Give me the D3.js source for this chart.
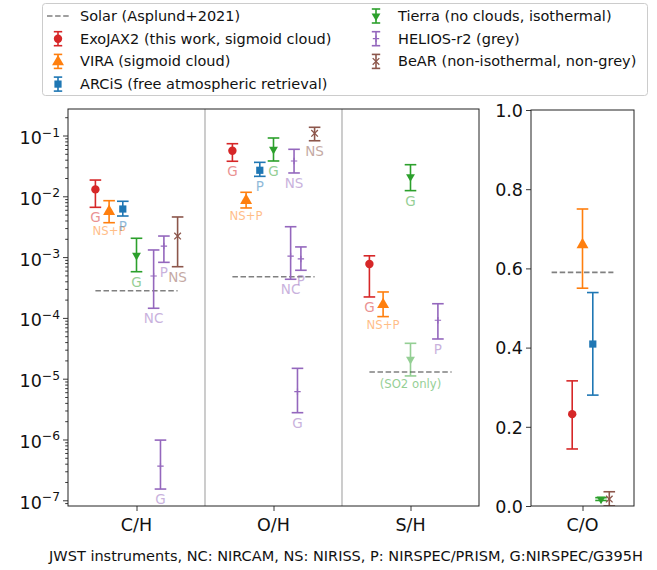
<!DOCTYPE html>
<html><head><meta charset="utf-8">
<script src="https://cdn.jsdelivr.net/npm/d3@7"></script>
<style>body{margin:0;background:#fff} text{font-family:"DejaVu Sans",sans-serif}</style>
</head><body><svg id="c" width="657" height="570"></svg>
<script>
// ---------------- data ----------------
const categories = ["C/H", "O/H", "S/H"];
const solarValues = [2.80e-4, 4.76e-4, 1.29e-5];
const solarCO = 0.59;
const yTickExponents = [-7, -6, -5, -4, -3, -2, -1];
const coTicks = [0, 0.2, 0.4, 0.6, 0.8, 1.0];

const exojaxVal = [0.0130, 0.0562, 7.71e-4];
const exojaxLo  = [0.00659, 0.0377, 2.21e-4];
const exojaxHi  = [0.0185, 0.0733, 1.05e-3];
const exojaxCO  = [0.232, 0.144, 0.316];

const viraVal = [0.00573, 0.00869, 1.69e-4];
const viraLo  = [0.00368, 0.00643, 1.05e-4];
const viraHi  = [0.00847, 0.01164, 2.67e-4];
const viraCO  = [0.661, 0.550, 0.750];

const arcisVal = [0.00618, 0.0268, null];
const arcisLo  = [0.00474, 0.0213, null];
const arcisHi  = [0.00828, 0.0362, null];
const arcisCO  = [0.409, 0.280, 0.539];

const tierraVal = [0.00107, 0.0593, 0.0210];
const tierraLo  = [5.75e-4, 0.0381, 0.0124];
const tierraHi  = [0.00204, 0.0910, 0.0331];
const tierraSO2 = [2.08e-5, 1.11e-5, 3.82e-5]; // S/H, SO2 only: value, lo, hi
const tierraCO  = [0.0175, 0.014, 0.021];

const heliosCat  = ["C/H", "C/H", "C/H", "O/H", "O/H", "O/H", "O/H", "S/H"];
const heliosInst = ["NC", "P", "G", "NS", "NC", "P", "G", "P"];
const heliosVal  = [4.89e-4, 1.52e-3, 3.65e-7, 0.0381, 1.04e-3, 9.33e-4, 6.11e-6, 9.14e-5];
const heliosLo   = [1.44e-4, 8.20e-4, 1.53e-7, 0.0242, 4.32e-4, 6.07e-4, 2.76e-6, 4.50e-5];
const heliosHi   = [1.31e-3, 2.22e-3, 9.77e-7, 0.0593, 3.16e-3, 1.47e-3, 1.48e-5, 1.71e-4];

const bearVal = [2.22e-3, 0.1087, null];
const bearLo  = [6.95e-4, 0.0820, null];
const bearHi  = [4.57e-3, 0.1365, null];
const bearCO  = [0.0175, 0.0, 0.036];

const legendLabels = ["Solar (Asplund+2021)", "ExoJAX2 (this work, sigmoid cloud)", "VIRA (sigmoid cloud)",
  "ARCiS (free atmospheric retrieval)", "Tierra (no clouds, isothermal)", "HELIOS-r2 (grey)", "BeAR (non-isothermal, non-grey)"];
const footer = "JWST instruments, NC: NIRCAM, NS: NIRISS, P: NIRSPEC/PRISM, G:NIRSPEC/G395H";

// ---------------- layout / style ----------------
const svg = d3.select("#c");
const C = {red:"#d62728", orange:"#ff7f0e", blue:"#1f77b4", green:"#2ca02c", purple:"#9467bd", brown:"#8c564b"};
const L = {x0:68, x1:479, y0:109, y1:506};
const R = {x0:531, x1:634};
const x = d3.scaleLinear([0, 3], [L.x0, L.x1]);
const y = d3.scaleLog([Math.pow(10, -7.094), Math.pow(10, -0.564)], [L.y1, L.y0]);
const xr = d3.scaleLinear([-0.5, 0.5], [R.x0, R.x1]);
const yr = d3.scaleLinear([0, 1], [L.y1, 110]);
const instOffset = {NC:0.125, P:0.2, G:0.175, NS:0.15};

const defs = svg.append("defs");
defs.append("clipPath").attr("id","cl").append("rect").attr("x",L.x0).attr("y",L.y0).attr("width",L.x1-L.x0).attr("height",L.y1-L.y0);
defs.append("clipPath").attr("id","cr").append("rect").attr("x",R.x0).attr("y",110).attr("width",R.x1-R.x0).attr("height",L.y1-110);

function marker(g, kind, cx, cy, color, s) {
  s = s || 1;
  if (kind === "o") g.append("circle").attr("cx",cx).attr("cy",cy).attr("r",4.2*s).attr("fill",color);
  else if (kind === "^") g.append("path").attr("d", d3.symbol(d3.symbolTriangle, 62*s*s)()).attr("transform",`translate(${cx},${cy+0.5})`).attr("fill",color);
  else if (kind === "v") g.append("path").attr("d", d3.symbol(d3.symbolTriangle, 34*s*s)()).attr("transform",`translate(${cx},${cy}) rotate(180)`).attr("fill",color);
  else if (kind === "s") g.append("rect").attr("x",cx-3.6*s).attr("y",cy-3.6*s).attr("width",7.2*s).attr("height",7.2*s).attr("fill",color);
  else if (kind === "+") g.append("path").attr("d",`M${cx-3.2*s},${cy}H${cx+3.2*s}M${cx},${cy-3.2*s}V${cy+3.2*s}`).attr("stroke",color).attr("stroke-width",1.2);
  else if (kind === "x") g.append("path").attr("d",`M${cx-3.3*s},${cy-3.3*s}L${cx+3.3*s},${cy+3.3*s}M${cx-3.3*s},${cy+3.3*s}L${cx+3.3*s},${cy-3.3*s}`).attr("stroke",color).attr("stroke-width",1.3);
}
function errbar(g, cx, yv, ylo, yhi, color, kind, opacity, cap) {
  cap = cap || 5.8;
  const gg = g.append("g").attr("opacity", opacity || 1);
  gg.append("line").attr("x1",cx).attr("x2",cx).attr("y1",ylo).attr("y2",yhi).attr("stroke",color).attr("stroke-width",1.6);
  [ylo, yhi].forEach(v => gg.append("line").attr("x1",cx-cap).attr("x2",cx+cap).attr("y1",v).attr("y2",v).attr("stroke",color).attr("stroke-width",1.6));
  marker(gg, kind, cx, yv, color);
}
function label(g, cx, ylo, txt, color, small) {
  g.append("text").attr("x",cx).attr("y",ylo + (small ? 8.5 : 10)).attr("text-anchor","middle").attr("dominant-baseline","central")
    .attr("font-size", small ? 11.7 : 13.5).attr("fill",color).attr("opacity",0.5).text(txt);
}

// ---------------- left panel ----------------
const gl = svg.append("g").attr("clip-path","url(#cl)");
[1, 2].forEach(d => gl.append("line").attr("x1",x(d)).attr("x2",x(d)).attr("y1",L.y0).attr("y2",L.y1).attr("stroke","#c0c0c0").attr("stroke-width",1.6));
categories.forEach((c, i) => {
  gl.append("line").attr("x1",x(i+0.2)).attr("x2",x(i+0.8)).attr("y1",y(solarValues[i])).attr("y2",y(solarValues[i]))
    .attr("stroke","#808080").attr("stroke-width",1.6).attr("stroke-dasharray","5.5,2.6");
});
const series = [
  {val:exojaxVal, lo:exojaxLo, hi:exojaxHi, color:C.red, kind:"o", off:-0.3, lab:"G"},
  {val:viraVal, lo:viraLo, hi:viraHi, color:C.orange, kind:"^", off:-0.2, lab:"NS+P", small:true},
  {val:arcisVal, lo:arcisLo, hi:arcisHi, color:C.blue, kind:"s", off:-0.1, lab:"P"},
  {val:tierraVal, lo:tierraLo, hi:tierraHi, color:C.green, kind:"v", off:0, lab:"G"},
];
series.forEach(s => {
  categories.forEach((c, i) => {
    if (s.val[i] == null) return;
    const cx = x(i + 0.5 + s.off);
    errbar(gl, cx, y(s.val[i]), y(s.lo[i]), y(s.hi[i]), s.color, s.kind);
    label(gl, cx, y(s.lo[i]), s.lab, s.color, s.small);
  });
});
// Tierra SO2 only
{
  const cx = x(2.5);
  errbar(gl, cx, y(tierraSO2[0]), y(tierraSO2[1]), y(tierraSO2[2]), C.green, "v", 0.5);
  label(gl, cx, y(tierraSO2[1]), "(SO2 only)", C.green, true);
}
heliosVal.forEach((v, j) => {
  const i = categories.indexOf(heliosCat[j]);
  const cx = x(i + 0.5 + instOffset[heliosInst[j]]);
  errbar(gl, cx, y(v), y(heliosLo[j]), y(heliosHi[j]), C.purple, "+");
  label(gl, cx, y(heliosLo[j]), heliosInst[j], C.purple);
});
categories.forEach((c, i) => {
  if (bearVal[i] == null) return;
  const cx = x(i + 0.8);
  errbar(gl, cx, y(bearVal[i]), y(bearLo[i]), y(bearHi[i]), C.brown, "x");
  label(gl, cx, y(bearLo[i]), "NS", C.brown);
});

// left axes
const axL = svg.append("g").attr("transform",`translate(${L.x0},0)`);
const minors = [];
for (let e = -8; e <= 0; e++) for (let k = 2; k <= 9; k++) { const v = k*Math.pow(10,e); if (v >= y.domain()[0] && v <= y.domain()[1]) minors.push(v); }
axL.call(d3.axisLeft(y).tickValues(minors).tickSize(2.8).tickFormat(""));
axL.call(g => g.select(".domain").remove());
const axL2 = svg.append("g").attr("transform",`translate(${L.x0},0)`);
axL2.call(d3.axisLeft(y).tickValues(yTickExponents.map(e => Math.pow(10, e))).tickSize(5).tickFormat(""));
axL2.select(".domain").remove();
svg.selectAll(".tick line").attr("stroke","#222").attr("stroke-width",0.9);
yTickExponents.forEach(e => {
  const t = svg.append("text").attr("x",60).attr("y",y(Math.pow(10,e))+8.5).attr("text-anchor","end").attr("fill","#111");
  t.append("tspan").attr("font-size",17.5).text("10");
  t.append("tspan").attr("font-size",12.3).attr("dy",-7.5).text("\u2212" + Math.abs(e));
});
const axB = svg.append("g").attr("transform",`translate(0,${L.y1})`);
axB.call(d3.axisBottom(x).tickValues(categories.map((c,i)=>i+0.5)).tickSize(5).tickFormat(""));
axB.select(".domain").remove();
axB.selectAll("line").attr("stroke","#222").attr("stroke-width",0.9);
categories.forEach((c,i) => svg.append("text").attr("x",x(i+0.5)).attr("y",531).attr("text-anchor","middle").attr("font-size",17.5).attr("fill","#111").text(c));
svg.append("rect").attr("x",L.x0).attr("y",L.y0).attr("width",L.x1-L.x0).attr("height",L.y1-L.y0).attr("fill","none").attr("stroke","#222").attr("stroke-width",1);

// ---------------- right panel ----------------
const gr = svg.append("g").attr("clip-path","url(#cr)");
gr.append("line").attr("x1",xr(-0.3)).attr("x2",xr(0.3)).attr("y1",yr(solarCO)).attr("y2",yr(solarCO))
  .attr("stroke","#808080").attr("stroke-width",1.6).attr("stroke-dasharray","5.5,2.6");
errbar(gr, xr(-0.1), yr(exojaxCO[0]), yr(exojaxCO[1]), yr(exojaxCO[2]), C.red, "o");
errbar(gr, xr(0), yr(viraCO[0]), yr(viraCO[1]), yr(viraCO[2]), C.orange, "^");
errbar(gr, xr(0.1), yr(arcisCO[0]), yr(arcisCO[1]), yr(arcisCO[2]), C.blue, "s");
errbar(gr, xr(0.18), yr(tierraCO[0]), yr(tierraCO[1]), yr(tierraCO[2]), C.green, "v");
errbar(gr, xr(0.26), yr(bearCO[0]), yr(bearCO[1]), yr(bearCO[2]), C.brown, "x");
const axR = svg.append("g").attr("transform",`translate(${R.x0},0)`);
axR.call(d3.axisLeft(yr).tickValues(coTicks).tickSize(5).tickFormat(d3.format(".1f")));
axR.select(".domain").remove();
axR.selectAll("line").attr("stroke","#222").attr("stroke-width",0.9);
axR.selectAll("text").attr("font-size",17.5).attr("font-family","DejaVu Sans").attr("fill","#111").attr("x",-8).attr("dy","0.36em");
const axRB = svg.append("g").attr("transform",`translate(0,${L.y1})`);
axRB.call(d3.axisBottom(xr).tickValues([0]).tickSize(5).tickFormat(""));
axRB.select(".domain").remove();
axRB.selectAll("line").attr("stroke","#222").attr("stroke-width",0.9);
svg.append("text").attr("x",xr(0)).attr("y",531).attr("text-anchor","middle").attr("font-size",17.5).attr("fill","#111").text("C/O");
svg.append("rect").attr("x",R.x0).attr("y",110).attr("width",R.x1-R.x0).attr("height",L.y1-110).attr("fill","none").attr("stroke","#222").attr("stroke-width",1);

// ---------------- legend ----------------
const lg = svg.append("g");
lg.append("rect").attr("x",42.5).attr("y",3.5).attr("width",605).attr("height",92).attr("rx",3).attr("fill","#fff").attr("fill-opacity",0.8).attr("stroke","#cccccc");
const legendItems = [
  {kind:"dash", color:"#808080"}, {kind:"o", color:C.red}, {kind:"^", color:C.orange}, {kind:"s", color:C.blue},
  {kind:"v", color:C.green}, {kind:"+", color:C.purple}, {kind:"x", color:C.brown}
];
legendItems.forEach((it, k) => {
  const col = k < 4 ? 0 : 1, row = k < 4 ? k : k - 4;
  const hx = col === 0 ? 58 : 376, tx = col === 0 ? 80 : 398, ty = 16 + row*22.7;
  if (it.kind === "dash") lg.append("line").attr("x1",hx-11).attr("x2",hx+12).attr("y1",ty).attr("y2",ty).attr("stroke",it.color).attr("stroke-width",1.6).attr("stroke-dasharray","5.5,2.6");
  else errbar(lg, hx, ty, ty+7, ty-7, it.color, it.kind, 1, 4.2);
  lg.append("text").attr("x",tx).attr("y",ty).attr("dominant-baseline","central").attr("font-size",14.5).attr("fill","#111").text(legendLabels[k]);
});

svg.append("text").attr("x",346).attr("y",561).attr("text-anchor","middle").attr("font-size",14.5).attr("fill","#111").text(footer);
</script></body></html>
